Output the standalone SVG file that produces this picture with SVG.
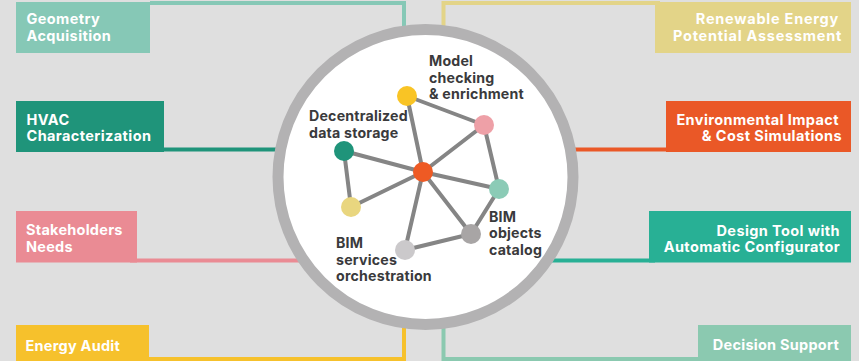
<svg xmlns="http://www.w3.org/2000/svg" width="859" height="361" viewBox="0 0 859 361">
<style>
text{font-family:Inter,"Liberation Sans",sans-serif;font-weight:700;font-size:14.5px}
.w{fill:#fff;letter-spacing:.4px}
.r{text-anchor:end}
.x{letter-spacing:.75px}
.t{letter-spacing:.25px}
.d{fill:#3a3a3c;font-size:14.2px;letter-spacing:.2px}
.c{fill:none;stroke-width:4}
.e{stroke:#858585;stroke-width:4}
</style>
<rect width="859" height="361" fill="#dfdfdf"/>
<g id="connectors">
<path class="c" stroke="#86c8b6" d="M150 3H404V30"/>
<path class="c" stroke="#1f947a" d="M160 149.500H280"/>
<path class="c" stroke="#ea8b94" d="M130 260.500H305"/>
<path class="c" stroke="#f6c12c" d="M145 359H404V325"/>
<path class="c" stroke="#e3d488" d="M660 3H443.500V30"/>
<path class="c" stroke="#ea5827" d="M670 149.500H575"/>
<path class="c" stroke="#28b095" d="M655 260.500H550"/>
<path class="c" stroke="#8bc9b0" d="M700 359H443.500V325"/>
</g>
<g id="hub"><circle cx="425.500" cy="177" r="147.500" fill="#fff" stroke="#b3b2b3" stroke-width="11"/></g>
<g id="network-links">
<path class="e" d="M407 96L423 172M407 96L484 125M484 125L423 172M484 125L499 189M344 151L423 172M344 151L351 207M351 207L423 172M423 172L499 189M423 172L471 234M423 172L405 250M499 189L471 234M471 234L405 250"/>
</g>
<g id="node-model"><circle cx="407" cy="96" r="10" fill="#f9c425"/></g>
<g id="node-pink"><circle cx="484" cy="125" r="10" fill="#eea0a7"/></g>
<g id="node-storage"><circle cx="344" cy="151" r="10" fill="#1f947a"/></g>
<g id="node-centre"><circle cx="423" cy="172" r="10" fill="#ee5a24"/></g>
<g id="node-teal"><circle cx="499" cy="189" r="10" fill="#8bcbb6"/></g>
<g id="node-sand"><circle cx="351" cy="207" r="10" fill="#e9d67f"/></g>
<g id="node-catalog"><circle cx="471" cy="234" r="10" fill="#a8a5a5"/></g>
<g id="node-services"><circle cx="405" cy="250" r="10" fill="#cbc9cb"/></g>
<g id="label-model"><text class="d"><tspan x="429" y="66">Model</tspan><tspan x="429" y="82.500">checking</tspan><tspan x="429" y="99">&amp; enrichment</tspan></text></g>
<g id="label-storage"><text class="d"><tspan x="309" y="121">Decentralized</tspan><tspan x="309" y="138">data storage</tspan></text></g>
<g id="label-services"><text class="d"><tspan x="336" y="248">BIM</tspan><tspan x="336" y="265">services</tspan><tspan x="336" y="281">orchestration</tspan></text></g>
<g id="label-catalog"><text class="d"><tspan x="489" y="222">BIM</tspan><tspan x="489" y="238">objects</tspan><tspan x="489" y="254.500">catalog</tspan></text></g>
<g id="geometry"><rect x="16" y="2" width="134" height="51" fill="#86c8b6"/><text class="w"><tspan x="26.500" y="24">Geometry</tspan><tspan x="26.500" y="40.500">Acquisition</tspan></text></g>
<g id="hvac"><rect x="16" y="101" width="148" height="51" fill="#1f947a"/><text class="w"><tspan x="26.500" y="124.500">HVAC</tspan><tspan x="26.500" y="141">Characterization</tspan></text></g>
<g id="stakeholders"><rect x="16" y="211" width="121" height="51.500" fill="#ea8b94"/><text class="w t"><tspan x="26" y="235">Stakeholders</tspan><tspan x="26" y="252">Needs</tspan></text></g>
<g id="audit"><rect x="16" y="325" width="133" height="36" fill="#f6c12c"/><text class="w t" x="25.500" y="351">Energy Audit</text></g>
<g id="renewable"><rect x="655" y="2" width="196" height="51" fill="#e3d488"/><text class="w r x"><tspan x="839" y="24">Renewable Energy</tspan><tspan x="842" y="40.500">Potential Assessment</tspan></text></g>
<g id="impact"><rect x="666" y="101" width="185" height="51" fill="#ea5827"/><text class="w r"><tspan x="839" y="124.500">Environmental Impact</tspan><tspan x="842" y="141">&amp; Cost Simulations</tspan></text></g>
<g id="design"><rect x="649" y="211" width="202" height="51.500" fill="#28b095"/><text class="w r"><tspan x="840" y="236">Design Tool with</tspan><tspan x="840" y="252">Automatic Configurator</tspan></text></g>
<g id="decision"><rect x="698" y="325" width="153" height="36" fill="#8bc9b0"/><text class="w r t" x="839" y="350">Decision Support</text></g>
</svg>
